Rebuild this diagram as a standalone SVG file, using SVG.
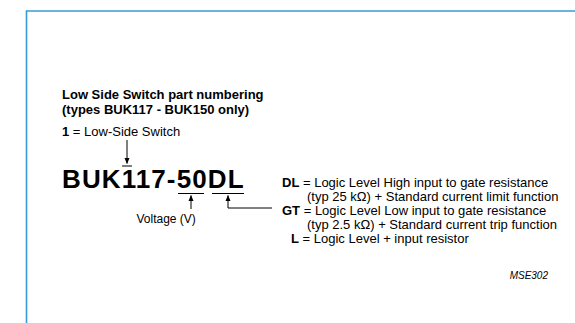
<svg xmlns="http://www.w3.org/2000/svg" width="575" height="323" viewBox="0 0 575 323">
<style>
text{font-family:"Liberation Sans",Arial,sans-serif;fill:#000}
.t{font-size:13px}
.s{font-size:12px}
.b{font-weight:bold}
.big{font-size:26px;font-weight:bold;letter-spacing:1.1px}
.ln{stroke:#000;stroke-width:1;fill:none}
.ul{stroke:#000;stroke-width:1.2;fill:none}
.frame{stroke:#3a9ad9;stroke-width:1.6;fill:none}
</style>
<defs>
<marker id="ah" markerWidth="6" markerHeight="7" refX="5.5" refY="3" orient="auto" markerUnits="userSpaceOnUse">
<path d="M0,0.5 L6,3 L0,5.5 Z" fill="#000"/>
</marker>
</defs>
<path class="frame" d="M26.5,323 V11 H575"/>
<g id="title">
<text class="t b" x="62" y="99">Low Side Switch part numbering</text>
<text class="t b" x="62" y="114">(types BUK117 - BUK150 only)</text>
</g>
<g id="switch-label">
<text class="t" x="62" y="136"><tspan class="b">1</tspan> = Low-Side Switch</text>
</g>
<g id="part-number">
<text class="big" x="62" y="188">BUK117-50DL</text>
<path class="ul" d="M122,166 H132 M178,193.5 H204 M212,193.5 H244"/>
</g>
<g id="voltage-label">
<text class="s" x="136.5" y="223">Voltage (V)</text>
</g>
<g id="options">
<text class="t" x="282" y="187"><tspan class="b">DL</tspan> = Logic Level High input to gate resistance</text>
<text class="t" x="307" y="201">(typ 25 kΩ) + Standard current limit function</text>
<text class="t" x="282" y="215"><tspan class="b">GT</tspan> = Logic Level Low input to gate resistance</text>
<text class="t" x="307" y="229">(typ 2.5 kΩ) + Standard current trip function</text>
<text class="t" x="291" y="243"><tspan class="b">L</tspan> = Logic Level + input resistor</text>
</g>
<g id="figure-code">
<text x="548" y="279" font-size="10" font-style="italic" text-anchor="end">MSE302</text>
</g>
<g id="connectors">
<path class="ln" d="M127,140 V163.5" marker-end="url(#ah)"/>
<path class="ln" d="M191,209 V195.5" marker-end="url(#ah)"/>
<path class="ln" d="M272,208 H228 V195.5" marker-end="url(#ah)"/>
</g>
</svg>
